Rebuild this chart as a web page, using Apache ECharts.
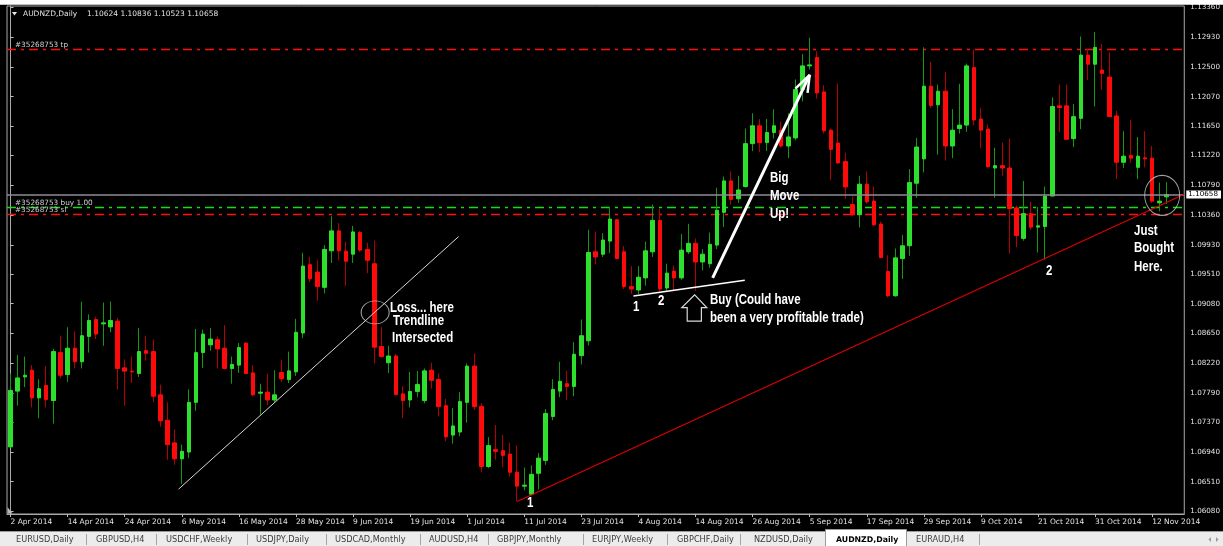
<!DOCTYPE html>
<html>
<head>
<meta charset="utf-8">
<script src="https://cdn.jsdelivr.net/npm/echarts@6/dist/echarts.min.js"></script>
<style>
  html, body { margin: 0; padding: 0; background: #000; overflow: hidden; }
  #chart { width: 1223px; height: 546px; }
</style>
</head>
<body>
<div id="chart"></div>
<script>
// AUDNZD daily candles, one row per trading day: [open, close, low, high]
const APR = [
  [1.07012, 1.07827, 1.06997, 1.08072], [1.07818, 1.08008, 1.07607, 1.08340], [1.08023, 1.08047, 1.07876, 1.08316],
  [1.08120, 1.07720, 1.07583, 1.08193], [1.07720, 1.07852, 1.07427, 1.07989], [1.07900, 1.07695, 1.07583, 1.08179],
  [1.07681, 1.08389, 1.07349, 1.08428], [1.08374, 1.08047, 1.07998, 1.08618], [1.08057, 1.08438, 1.07950, 1.08740],
  [1.08438, 1.08242, 1.08145, 1.08681], [1.08242, 1.08618, 1.08145, 1.09107], [1.08608, 1.08838, 1.08374, 1.08926],
  [1.08852, 1.08642, 1.08570, 1.08892], [1.08789, 1.08804, 1.08472, 1.09097], [1.08745, 1.08838, 1.08667, 1.09112],
  [1.08828, 1.08145, 1.07843, 1.08877], [1.08154, 1.08106, 1.07607, 1.08277], [1.08106, 1.08096, 1.07935, 1.08316],
  [1.08072, 1.08389, 1.08023, 1.08730], [1.08403, 1.08364, 1.08257, 1.08618], [1.08389, 1.07744, 1.07656, 1.08560]
];
const MAY = [
  [1.07764, 1.07388, 1.07305, 1.07910], [1.07397, 1.07046, 1.06826, 1.07656], [1.07070, 1.06840, 1.06753, 1.07266],
  [1.06840, 1.06948, 1.06475, 1.07046], [1.06938, 1.07656, 1.06850, 1.07843], [1.07656, 1.08374, 1.07534, 1.08716],
  [1.08374, 1.08642, 1.08154, 1.08706], [1.08486, 1.08570, 1.08403, 1.08730], [1.08560, 1.08428, 1.08145, 1.08608],
  [1.08438, 1.08145, 1.08130, 1.08770], [1.08145, 1.08203, 1.07925, 1.08316], [1.08193, 1.08447, 1.08081, 1.08511],
  [1.08511, 1.08072, 1.08062, 1.08525], [1.08081, 1.07764, 1.07744, 1.08193], [1.07788, 1.07803, 1.07476, 1.07925],
  [1.07803, 1.07690, 1.07617, 1.08072], [1.07690, 1.07764, 1.07656, 1.08120], [1.08086, 1.07998, 1.07950, 1.08267],
  [1.07984, 1.08110, 1.07935, 1.08389], [1.08096, 1.08667, 1.08037, 1.08862], [1.08657, 1.09624, 1.08584, 1.09815],
  [1.09644, 1.09439, 1.09390, 1.09756]
];
const JUN = [
  [1.09537, 1.09327, 1.09122, 1.09707], [1.09317, 1.09864, 1.09229, 1.09927], [1.09844, 1.10132, 1.09668, 1.10342],
  [1.10132, 1.09844, 1.09707, 1.10244], [1.09839, 1.09693, 1.09341, 1.09976], [1.09795, 1.10117, 1.09668, 1.10205],
  [1.10108, 1.09854, 1.09830, 1.10132], [1.09864, 1.09707, 1.09522, 1.09961], [1.09658, 1.08452, 1.08218, 1.09990],
  [1.08462, 1.08316, 1.08306, 1.08745], [1.08228, 1.08325, 1.08081, 1.08472], [1.08325, 1.07769, 1.07754, 1.08355],
  [1.07778, 1.07681, 1.07427, 1.07886], [1.07690, 1.07813, 1.07583, 1.08096], [1.07813, 1.07915, 1.07730, 1.08110],
  [1.07681, 1.08110, 1.07642, 1.08145], [1.08120, 1.07974, 1.07852, 1.08228], [1.07984, 1.07593, 1.07451, 1.08072],
  [1.07607, 1.07158, 1.07095, 1.07705], [1.07183, 1.07315, 1.07060, 1.07573], [1.07227, 1.07666, 1.07168, 1.07803]
];
const JUL = [
  [1.07656, 1.08179, 1.07363, 1.08218], [1.08179, 1.07593, 1.07549, 1.08364], [1.07597, 1.06729, 1.06646, 1.07646],
  [1.06729, 1.07031, 1.06705, 1.07153], [1.06973, 1.06948, 1.06826, 1.07329], [1.06958, 1.06890, 1.06719, 1.07183],
  [1.06909, 1.06646, 1.06582, 1.07070], [1.06646, 1.06445, 1.06225, 1.07036], [1.06445, 1.06460, 1.06387, 1.06714],
  [1.06328, 1.06616, 1.06313, 1.06743], [1.06631, 1.06850, 1.06396, 1.06924], [1.06816, 1.07495, 1.06753, 1.07559],
  [1.07451, 1.07843, 1.07397, 1.07989], [1.07818, 1.07960, 1.07730, 1.08242], [1.07925, 1.07886, 1.07690, 1.08110],
  [1.07886, 1.08350, 1.07744, 1.08525], [1.08330, 1.08618, 1.08203, 1.08852], [1.08545, 1.09820, 1.08477, 1.10147],
  [1.09830, 1.09756, 1.09649, 1.10122], [1.09795, 1.10000, 1.09756, 1.10098], [1.09985, 1.10303, 1.09815, 1.10478],
  [1.10293, 1.09732, 1.09722, 1.10303], [1.09830, 1.09327, 1.09293, 1.09912]
];
const AUG = [
  [1.09327, 1.09293, 1.09220, 1.09624], [1.09278, 1.09463, 1.09220, 1.09624], [1.09453, 1.09844, 1.09341, 1.09976],
  [1.09830, 1.10283, 1.09756, 1.10513], [1.10283, 1.09293, 1.09258, 1.10449], [1.09307, 1.09522, 1.09268, 1.09658],
  [1.09551, 1.09453, 1.09268, 1.09634], [1.09453, 1.09854, 1.09424, 1.10088], [1.09830, 1.09951, 1.09795, 1.10234],
  [1.09951, 1.09683, 1.09268, 1.10024], [1.09683, 1.09795, 1.09561, 1.09869], [1.09658, 1.09937, 1.09600, 1.10108],
  [1.09927, 1.10430, 1.09869, 1.10757], [1.10400, 1.10854, 1.10186, 1.10918], [1.10854, 1.10586, 1.10513, 1.10991],
  [1.10596, 1.10723, 1.10537, 1.10928], [1.10772, 1.11392, 1.10757, 1.11611], [1.11392, 1.11650, 1.11284, 1.11831],
  [1.11650, 1.11407, 1.11270, 1.11748], [1.11407, 1.11553, 1.11284, 1.11748], [1.11553, 1.11650, 1.11465, 1.11890]
];
const SEP = [
  [1.11587, 1.11358, 1.11333, 1.11709], [1.11358, 1.11489, 1.11182, 1.11831], [1.11475, 1.12173, 1.11440, 1.12319],
  [1.12173, 1.12515, 1.12002, 1.12686], [1.12515, 1.12529, 1.12461, 1.12920], [1.12637, 1.12124, 1.12041, 1.12725],
  [1.12139, 1.11577, 1.11538, 1.12236], [1.11587, 1.11309, 1.10869, 1.11611], [1.11401, 1.11113, 1.11098, 1.12260],
  [1.11133, 1.10767, 1.10596, 1.11260], [1.10513, 1.10366, 1.10342, 1.10625], [1.10366, 1.10806, 1.10181, 1.10928],
  [1.10806, 1.10552, 1.10527, 1.10991], [1.10562, 1.10220, 1.10205, 1.10772], [1.10230, 1.09746, 1.09742, 1.10269],
  [1.09546, 1.09195, 1.09171, 1.09781], [1.09195, 1.09742, 1.09181, 1.09878], [1.09732, 1.09917, 1.09439, 1.10073],
  [1.09917, 1.10830, 1.09770, 1.11025], [1.10820, 1.11343, 1.10610, 1.11475], [1.11172, 1.12222, 1.10976, 1.12783],
  [1.12222, 1.11943, 1.11904, 1.12573]
];
const OCT = [
  [1.11953, 1.12149, 1.11231, 1.12246], [1.12149, 1.11358, 1.11147, 1.12427], [1.11358, 1.11587, 1.11182, 1.11890],
  [1.11611, 1.11660, 1.11538, 1.12256], [1.11660, 1.12515, 1.11562, 1.12549], [1.12490, 1.11734, 1.11660, 1.12749],
  [1.11748, 1.11587, 1.11328, 1.11904], [1.11602, 1.11059, 1.11040, 1.11670], [1.11040, 1.11074, 1.10610, 1.11333],
  [1.11074, 1.11040, 1.10928, 1.11407], [1.11040, 1.10454, 1.09805, 1.11465], [1.10464, 1.10064, 1.09893, 1.10498],
  [1.10024, 1.10381, 1.09990, 1.10854], [1.10381, 1.10186, 1.10147, 1.10552], [1.10186, 1.10205, 1.09820, 1.10478],
  [1.10195, 1.10635, 1.09717, 1.10772], [1.10635, 1.11929, 1.10635, 1.12061], [1.11938, 1.11914, 1.11562, 1.12246],
  [1.11938, 1.11455, 1.11455, 1.12246], [1.11465, 1.11782, 1.11343, 1.11963], [1.11758, 1.12671, 1.11602, 1.12940],
  [1.12671, 1.12539, 1.12310, 1.12759], [1.12539, 1.12783, 1.11929, 1.13003]
];
const NOV = [
  [1.12456, 1.12407, 1.12173, 1.12832], [1.12354, 1.11782, 1.11782, 1.12710], [1.11792, 1.11123, 1.10879, 1.11865],
  [1.11123, 1.11211, 1.11040, 1.11572], [1.11221, 1.11182, 1.11113, 1.11734], [1.11050, 1.11211, 1.10879, 1.11489],
  [1.11187, 1.11172, 1.11050, 1.11572], [1.11182, 1.10562, 1.10537, 1.11358], [1.10537, 1.10562, 1.10415, 1.10830],
  [1.10624, 1.10658, 1.10523, 1.10836]
];

// Price scale labels on the right
const PRICE_TICKS = [1.13360, 1.12930, 1.12500, 1.12070, 1.11650, 1.11220, 1.10790, 1.10360, 1.09930,
                     1.09510, 1.09080, 1.08650, 1.08220, 1.07790, 1.07370, 1.06940, 1.06510, 1.06080];

// Order levels of ticket #35268753 and the current bid
const TP_LEVEL = 1.12752;
const BUY_LEVEL = 1.10470;
const SL_LEVEL = 1.10369;
const BID_LEVEL = 1.10658;
const HEADER_QUOTE = '1.10624 1.10836 1.10523 1.10658';

const TABS = ['EURUSD,Daily', 'GBPUSD,H4', 'USDCHF,Weekly', 'USDJPY,Daily', 'USDCAD,Monthly', 'AUDUSD,H4',
              'GBPJPY,Monthly', 'EURJPY,Weekly', 'GBPCHF,Daily', 'NZDUSD,Daily', 'AUDNZD,Daily', 'EURAUD,H4'];
const ACTIVE_TAB = 'AUDNZD,Daily';

// ---- trading calendar (weekdays) ----
const MONTH_NAMES = ['Jan', 'Feb', 'Mar', 'Apr', 'May', 'Jun', 'Jul', 'Aug', 'Sep', 'Oct', 'Nov', 'Dec'];
function weekdays(from, to) {
  const out = [];
  const d = new Date(from + 'T00:00:00Z');
  const end = new Date(to + 'T00:00:00Z');
  while (d <= end) {
    const w = d.getUTCDay();
    if (w !== 0 && w !== 6) out.push(d.getUTCDate() + ' ' + MONTH_NAMES[d.getUTCMonth()] + ' ' + d.getUTCFullYear());
    d.setUTCDate(d.getUTCDate() + 1);
  }
  return out;
}
const DAYS = weekdays('2014-04-02', '2014-11-14');
// two empty slots keep the chart shifted away from the price scale
const CATEGORIES = DAYS.concat([' ', '  ']);
const X_FIRST = -0.5, X_LAST = CATEGORIES.length - 0.5;

const CANDLES = [].concat(APR, MAY, JUN, JUL, AUG, SEP, OCT, NOV);
const BODIES = CANDLES.map(([o, c]) => [o, c, Math.min(o, c), Math.max(o, c)]);

// Hand-drawn objects, in (bar index, price) coordinates
const TRENDLINES = [
  { pts: [[71, 1.06225], [164.5, 1.10660]], color: '#e00000', width: 1.1 },
  { pts: [[23.55, 1.06402], [62.8, 1.10050]], color: '#d8d8d8', width: 1 },
  { pts: [[87.3, 1.09190], [102.9, 1.09419]], color: '#ffffff', width: 1.5 }
];
const MOVE_ARROW = { shaft: [[98.4, 1.09453], [112.0, 1.12384]], head: [[110.0, 1.12187], [112.0, 1.12384], [111.7, 1.12124]] };
const RINGS = [
  { at: [51.1, 1.08955], size: [28, 23] },
  { at: [161.4, 1.10645], size: [35, 40] }
];

const NOTES = [
  { text: 'Loss... here', x: 390, y: 301 },
  { text: 'Trendline', x: 393, y: 314 },
  { text: 'Intersected', x: 392, y: 331 },
  { text: '1', x: 527, y: 496 },
  { text: '1', x: 633, y: 300 },
  { text: '2', x: 658, y: 294 },
  { text: 'Buy (Could have', x: 710, y: 293 },
  { text: 'been a very profitable trade)', x: 710, y: 311.5 },
  { text: 'Big', x: 770, y: 171 },
  { text: 'Move', x: 770, y: 189 },
  { text: 'Up!', x: 770, y: 207.5 },
  { text: '2', x: 1046, y: 264 },
  { text: 'Just', x: 1134, y: 224 },
  { text: 'Bought', x: 1134, y: 241.5 },
  { text: 'Here.', x: 1134, y: 260 }
];

const BODY_UP = '#2ee02e', BODY_DOWN = '#ff0a0a';
const WICK_UP = '#119a11', WICK_DOWN = '#b40000';
const FRAME = '#a8a8a8';
const LABEL = '#e2e2e2';
const DASH_DOT = [9, 5, 3, 5];

const chart = echarts.init(document.getElementById('chart'), null, { renderer: 'canvas' });

const lineSeries = (pts, color, width, type) => ({
  type: 'line', xAxisIndex: 1, yAxisIndex: 0, data: pts, symbol: 'none', silent: true,
  lineStyle: { color, width, type: type || 'solid' }, z: 6, animation: false
});
const levelSeries = (level, color, width, type) => lineSeries([[X_FIRST, level], [X_LAST, level]], color, width, type);

const series = [
  // order levels sit behind the candles
  Object.assign(levelSeries(TP_LEVEL, '#ff1010', 1.4, DASH_DOT), { z: 1 }),
  Object.assign(levelSeries(BUY_LEVEL, '#10e010', 1.4, DASH_DOT), { z: 1 }),
  Object.assign(levelSeries(SL_LEVEL, '#ff1010', 1.4, DASH_DOT), { z: 1 }),
  {
    name: 'wicks', type: 'candlestick', data: CANDLES, barWidth: 0.5, silent: true,
    itemStyle: { color: WICK_UP, color0: WICK_DOWN, borderColor: WICK_UP, borderColor0: WICK_DOWN, borderWidth: 1 },
    markLine: {
      silent: true, symbol: ['none', 'none'], animation: false, precision: 5,
      data: [
        {
          yAxis: BID_LEVEL, lineStyle: { color: '#8c8c94', type: 'solid', width: 1.5 },
          label: {
            show: true, position: 'end', formatter: BID_LEVEL.toFixed(5), distance: 2,
            backgroundColor: '#ffffff', color: '#000000', padding: [1, 3, 0, 2],
            fontSize: 7.2, fontFamily: 'DejaVu Sans'
          }
        }
      ]
    }
  },
  {
    name: 'bodies', type: 'candlestick', data: BODIES, barWidth: 4, silent: true,
    itemStyle: { color: BODY_UP, color0: BODY_DOWN, borderColor: BODY_UP, borderColor0: BODY_DOWN, borderWidth: 1 }
  }
];
TRENDLINES.forEach(t => series.push(lineSeries(t.pts, t.color, t.width)));
series.push(lineSeries(MOVE_ARROW.shaft, '#ffffff', 3));
series.push(lineSeries(MOVE_ARROW.head, '#ffffff', 2.5));
RINGS.forEach(r => series.push({
  type: 'scatter', xAxisIndex: 1, yAxisIndex: 0, data: [r.at], symbol: 'circle', symbolSize: r.size, silent: true,
  itemStyle: { color: 'rgba(0,0,0,0)', borderColor: '#c8c8c8', borderWidth: 1 }, z: 6
}));

// ---- overlay drawing: header, order tags, notes, terminal tab strip ----
const smallFont = (size, weight) => ({ fontFamily: 'DejaVu Sans', fontSize: size, fontWeight: weight || 'normal' });
const graphics = [
  { type: 'rect', shape: { x: 0, y: 0, width: 1223, height: 4.8 }, style: { fill: '#ffffff' }, z: 100 },
  { type: 'polygon', shape: { points: [[12, 12], [17, 12], [14.5, 15.5]] }, style: { fill: '#e8e8e8' }, z: 100 },
  { type: 'text', x: 23, y: 14, style: Object.assign({ text: 'AUDNZD,Daily', fill: LABEL, verticalAlign: 'middle' }, smallFont(7.5)), z: 100 },
  { type: 'text', x: 87, y: 14, style: Object.assign({ text: HEADER_QUOTE, fill: LABEL, verticalAlign: 'middle' }, smallFont(7.5)), z: 100 },
  { type: 'text', x: 15, y: 48.5, style: Object.assign({ text: '#35268753 tp', fill: '#cfcfcf', verticalAlign: 'bottom' }, smallFont(7.3)), z: 100 },
  { type: 'text', x: 15, y: 206.5, style: Object.assign({ text: '#35268753 buy 1.00', fill: '#cfcfcf', verticalAlign: 'bottom' }, smallFont(7.3)), z: 100 },
  { type: 'text', x: 15, y: 213.5, style: Object.assign({ text: '#35268753 sl', fill: '#cfcfcf', verticalAlign: 'bottom' }, smallFont(7.3)), z: 100 },
  { type: 'polygon', shape: { points: [[7.5, 507], [7.5, 513.5], [12.5, 513.5]] }, style: { fill: '#b8b8b8' }, z: 100 },
  // hollow "buy here" arrow
  {
    type: 'polygon',
    shape: { points: [[694.7, 294.8], [681.8, 307.6], [687.2, 307.6], [687.2, 321.2], [701.4, 321.2], [701.4, 307.6], [706.8, 307.6]] },
    style: { fill: 'none', stroke: '#d8d8d8', lineWidth: 1.2 }, z: 100
  }
];
NOTES.forEach(n => graphics.push({
  type: 'text', x: n.x, y: n.y, scaleX: 0.82, z: 101,
  style: { text: n.text, fill: '#ffffff', fontFamily: 'Liberation Sans', fontWeight: 'bold', fontSize: 14, verticalAlign: 'top', align: 'left' }
}));

// terminal tab strip
graphics.push({ type: 'rect', shape: { x: 0, y: 531, width: 1223, height: 15 }, style: { fill: '#ececec' }, z: 100 });
graphics.push({ type: 'line', shape: { x1: 0, y1: 531.5, x2: 1223, y2: 531.5 }, style: { stroke: '#9a9a9a', lineWidth: 1 }, z: 100 });
const TAB_X = [16, 96, 166, 256, 335, 429, 497, 592, 677, 754, 836, 916];
const TAB_SEP = [86, 156, 247, 326, 420, 488, 583, 667, 740, 979];
graphics.push({ type: 'rect', shape: { x: 825.5, y: 529.5, width: 81, height: 17 }, style: { fill: '#ffffff', stroke: '#9a9a9a', lineWidth: 1 }, z: 101 });
TAB_SEP.forEach(x => graphics.push({ type: 'line', shape: { x1: x + 0.5, y1: 534, x2: x + 0.5, y2: 545 }, style: { stroke: '#a4a4a4', lineWidth: 1 }, z: 101 }));
TABS.forEach((t, i) => {
  const active = t === ACTIVE_TAB;
  graphics.push({
    type: 'text', x: TAB_X[i], y: 539.5, z: 102,
    style: Object.assign({ text: t, fill: active ? '#000000' : '#3c3c3c', verticalAlign: 'middle' }, smallFont(active ? 7.8 : 8.2, active ? 'bold' : 'normal'))
  });
});
graphics.push({ type: 'polygon', shape: { points: [[1211, 537], [1211, 542], [1208.5, 539.5]] }, style: { fill: '#9a9a9a' }, z: 102 });
graphics.push({ type: 'polygon', shape: { points: [[1216, 537], [1216, 542], [1218.5, 539.5]] }, style: { fill: '#9a9a9a' }, z: 102 });

const option = {
  backgroundColor: '#000000',
  animation: false,
  grid: { left: 7, right: 38, top: 6, bottom: 32, show: true, borderColor: FRAME, borderWidth: 1, backgroundColor: '#000000' },
  xAxis: [
    {
      type: 'category', data: CATEGORIES, boundaryGap: true,
      axisLine: { show: true, lineStyle: { color: FRAME } },
      axisTick: { show: true, interval: 7, alignWithLabel: true, length: 3, lineStyle: { color: '#bdbdbd' } },
      axisLabel: { interval: 7, align: 'left', margin: 4, color: LABEL, fontSize: 7.5, fontFamily: 'DejaVu Sans' },
      splitLine: { show: false }
    },
    { type: 'value', min: X_FIRST, max: X_LAST, show: false }
  ],
  yAxis: {
    type: 'value', position: 'right', min: 1.06043, max: 1.13380,
    splitLine: { show: false },
    axisLine: { show: true, lineStyle: { color: FRAME } },
    axisTick: { show: true, length: 3, customValues: PRICE_TICKS, lineStyle: { color: '#bdbdbd' } },
    axisLabel: { customValues: PRICE_TICKS, formatter: v => v.toFixed(5), color: LABEL, fontSize: 7.2, margin: 6, fontFamily: 'DejaVu Sans' }
  },
  series,
  graphic: graphics
};
chart.setOption(option);
</script>
</body>
</html>
